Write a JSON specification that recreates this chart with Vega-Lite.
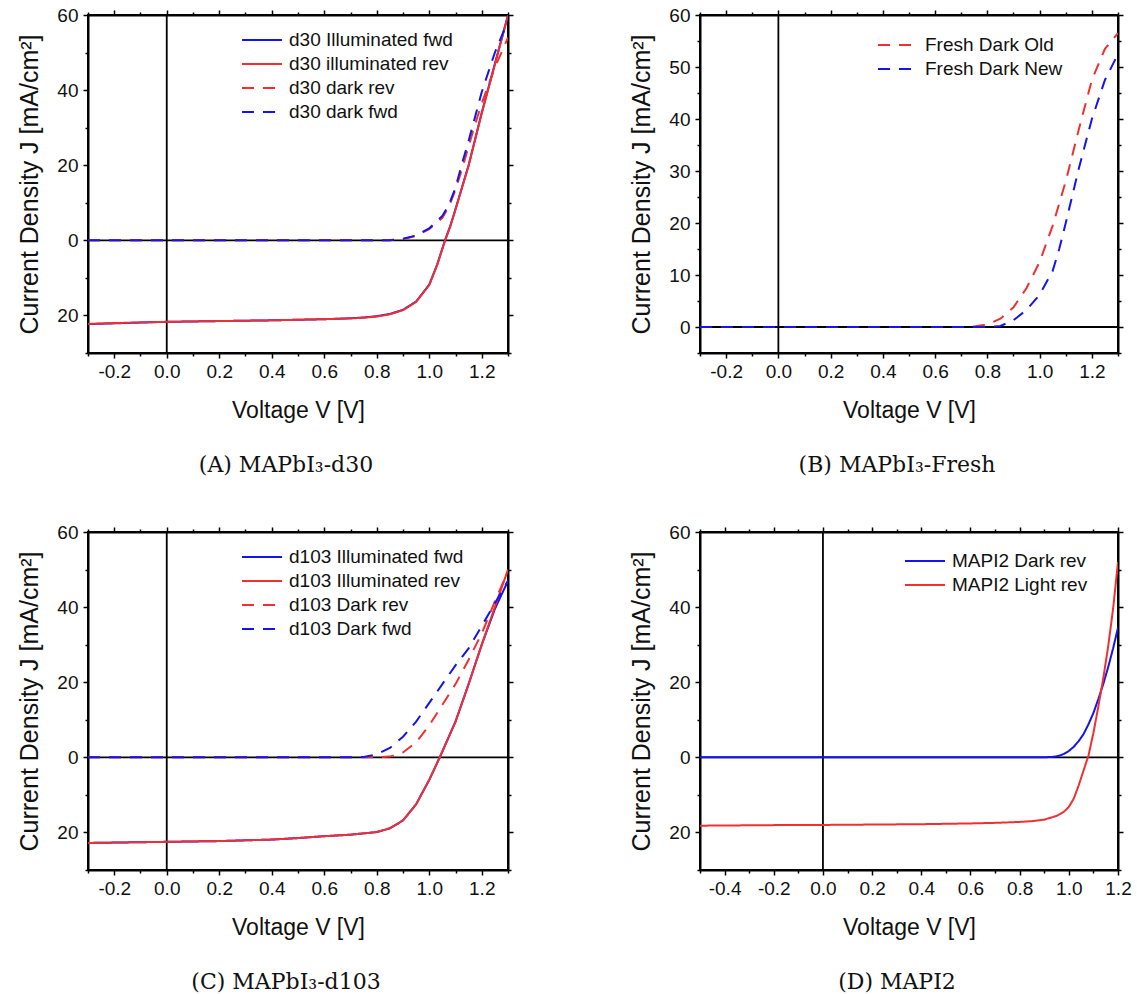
{
  "$schema": "https://vega.github.io/schema/vega-lite/v6.json",
  "background": "white",
  "padding": {"left": 16, "top": 5, "right": 0, "bottom": 0},
  "datasets": {
    "A": [
      {"V": -0.3, "J": -22.3, "s": "d30 Illuminated fwd"}, {"V": -0.2, "J": -22.1, "s": "d30 Illuminated fwd"}, {"V": -0.1, "J": -21.9, "s": "d30 Illuminated fwd"}, {"V": 0, "J": -21.7, "s": "d30 Illuminated fwd"}, {"V": 0.1, "J": -21.6, "s": "d30 Illuminated fwd"}, {"V": 0.2, "J": -21.5, "s": "d30 Illuminated fwd"}, {"V": 0.3, "J": -21.4, "s": "d30 Illuminated fwd"}, {"V": 0.4, "J": -21.3, "s": "d30 Illuminated fwd"}, {"V": 0.5, "J": -21.15, "s": "d30 Illuminated fwd"}, {"V": 0.6, "J": -21.0, "s": "d30 Illuminated fwd"}, {"V": 0.7, "J": -20.75, "s": "d30 Illuminated fwd"}, {"V": 0.75, "J": -20.55, "s": "d30 Illuminated fwd"}, {"V": 0.8, "J": -20.2, "s": "d30 Illuminated fwd"}, {"V": 0.85, "J": -19.6, "s": "d30 Illuminated fwd"}, {"V": 0.9, "J": -18.5, "s": "d30 Illuminated fwd"}, {"V": 0.95, "J": -16.3, "s": "d30 Illuminated fwd"}, {"V": 1.0, "J": -11.8, "s": "d30 Illuminated fwd"}, {"V": 1.03, "J": -6.5, "s": "d30 Illuminated fwd"}, {"V": 1.06, "J": 0, "s": "d30 Illuminated fwd"}, {"V": 1.08, "J": 3.8, "s": "d30 Illuminated fwd"}, {"V": 1.1, "J": 8.3, "s": "d30 Illuminated fwd"}, {"V": 1.15, "J": 20, "s": "d30 Illuminated fwd"}, {"V": 1.2, "J": 34, "s": "d30 Illuminated fwd"}, {"V": 1.25, "J": 47, "s": "d30 Illuminated fwd"}, {"V": 1.3, "J": 60, "s": "d30 Illuminated fwd"},
      {"V": -0.3, "J": -22.25, "s": "d30 illuminated rev"}, {"V": -0.2, "J": -22.05, "s": "d30 illuminated rev"}, {"V": -0.1, "J": -21.85, "s": "d30 illuminated rev"}, {"V": 0, "J": -21.7, "s": "d30 illuminated rev"}, {"V": 0.1, "J": -21.6, "s": "d30 illuminated rev"}, {"V": 0.2, "J": -21.5, "s": "d30 illuminated rev"}, {"V": 0.3, "J": -21.4, "s": "d30 illuminated rev"}, {"V": 0.4, "J": -21.3, "s": "d30 illuminated rev"}, {"V": 0.5, "J": -21.15, "s": "d30 illuminated rev"}, {"V": 0.6, "J": -21.0, "s": "d30 illuminated rev"}, {"V": 0.7, "J": -20.8, "s": "d30 illuminated rev"}, {"V": 0.75, "J": -20.6, "s": "d30 illuminated rev"}, {"V": 0.8, "J": -20.3, "s": "d30 illuminated rev"}, {"V": 0.85, "J": -19.7, "s": "d30 illuminated rev"}, {"V": 0.9, "J": -18.6, "s": "d30 illuminated rev"}, {"V": 0.95, "J": -16.4, "s": "d30 illuminated rev"}, {"V": 1.0, "J": -11.9, "s": "d30 illuminated rev"}, {"V": 1.03, "J": -6.6, "s": "d30 illuminated rev"}, {"V": 1.06, "J": -0.1, "s": "d30 illuminated rev"}, {"V": 1.08, "J": 3.7, "s": "d30 illuminated rev"}, {"V": 1.1, "J": 8.2, "s": "d30 illuminated rev"}, {"V": 1.15, "J": 19.9, "s": "d30 illuminated rev"}, {"V": 1.2, "J": 33.8, "s": "d30 illuminated rev"}, {"V": 1.25, "J": 46.8, "s": "d30 illuminated rev"}, {"V": 1.3, "J": 59.8, "s": "d30 illuminated rev"},
      {"V": -0.3, "J": 0, "s": "d30 dark rev"}, {"V": -0.2, "J": 0, "s": "d30 dark rev"}, {"V": -0.1, "J": 0, "s": "d30 dark rev"}, {"V": 0, "J": 0, "s": "d30 dark rev"}, {"V": 0.1, "J": 0, "s": "d30 dark rev"}, {"V": 0.2, "J": 0, "s": "d30 dark rev"}, {"V": 0.3, "J": 0, "s": "d30 dark rev"}, {"V": 0.4, "J": 0, "s": "d30 dark rev"}, {"V": 0.5, "J": 0, "s": "d30 dark rev"}, {"V": 0.6, "J": 0, "s": "d30 dark rev"}, {"V": 0.7, "J": 0, "s": "d30 dark rev"}, {"V": 0.8, "J": 0, "s": "d30 dark rev"}, {"V": 0.85, "J": 0.05, "s": "d30 dark rev"}, {"V": 0.9, "J": 0.3, "s": "d30 dark rev"}, {"V": 0.95, "J": 1.2, "s": "d30 dark rev"}, {"V": 1.0, "J": 3.0, "s": "d30 dark rev"}, {"V": 1.05, "J": 6.0, "s": "d30 dark rev"}, {"V": 1.075, "J": 9.0, "s": "d30 dark rev"}, {"V": 1.1, "J": 13.5, "s": "d30 dark rev"}, {"V": 1.125, "J": 19, "s": "d30 dark rev"}, {"V": 1.15, "J": 25, "s": "d30 dark rev"}, {"V": 1.175, "J": 31, "s": "d30 dark rev"}, {"V": 1.2, "J": 36.5, "s": "d30 dark rev"}, {"V": 1.25, "J": 46, "s": "d30 dark rev"}, {"V": 1.3, "J": 54, "s": "d30 dark rev"},
      {"V": -0.3, "J": 0, "s": "d30 dark fwd"}, {"V": -0.2, "J": 0, "s": "d30 dark fwd"}, {"V": -0.1, "J": 0, "s": "d30 dark fwd"}, {"V": 0, "J": 0, "s": "d30 dark fwd"}, {"V": 0.1, "J": 0, "s": "d30 dark fwd"}, {"V": 0.2, "J": 0, "s": "d30 dark fwd"}, {"V": 0.3, "J": 0, "s": "d30 dark fwd"}, {"V": 0.4, "J": 0, "s": "d30 dark fwd"}, {"V": 0.5, "J": 0, "s": "d30 dark fwd"}, {"V": 0.6, "J": 0, "s": "d30 dark fwd"}, {"V": 0.7, "J": 0, "s": "d30 dark fwd"}, {"V": 0.8, "J": 0, "s": "d30 dark fwd"}, {"V": 0.85, "J": 0.05, "s": "d30 dark fwd"}, {"V": 0.9, "J": 0.4, "s": "d30 dark fwd"}, {"V": 0.95, "J": 1.3, "s": "d30 dark fwd"}, {"V": 1.0, "J": 3.2, "s": "d30 dark fwd"}, {"V": 1.05, "J": 6.5, "s": "d30 dark fwd"}, {"V": 1.075, "J": 9.5, "s": "d30 dark fwd"}, {"V": 1.1, "J": 14, "s": "d30 dark fwd"}, {"V": 1.125, "J": 20.5, "s": "d30 dark fwd"}, {"V": 1.15, "J": 26.5, "s": "d30 dark fwd"}, {"V": 1.175, "J": 33, "s": "d30 dark fwd"}, {"V": 1.2, "J": 39.5, "s": "d30 dark fwd"}, {"V": 1.25, "J": 50, "s": "d30 dark fwd"}, {"V": 1.3, "J": 58.5, "s": "d30 dark fwd"}
    ],
    "B": [
      {"V": -0.3, "J": 0, "s": "Fresh Dark Old"}, {"V": -0.2, "J": 0, "s": "Fresh Dark Old"}, {"V": -0.1, "J": 0, "s": "Fresh Dark Old"}, {"V": 0, "J": 0, "s": "Fresh Dark Old"}, {"V": 0.1, "J": 0, "s": "Fresh Dark Old"}, {"V": 0.2, "J": 0, "s": "Fresh Dark Old"}, {"V": 0.3, "J": 0, "s": "Fresh Dark Old"}, {"V": 0.4, "J": 0, "s": "Fresh Dark Old"}, {"V": 0.5, "J": 0, "s": "Fresh Dark Old"}, {"V": 0.6, "J": 0, "s": "Fresh Dark Old"}, {"V": 0.7, "J": 0, "s": "Fresh Dark Old"}, {"V": 0.75, "J": 0.1, "s": "Fresh Dark Old"}, {"V": 0.8, "J": 0.5, "s": "Fresh Dark Old"}, {"V": 0.85, "J": 1.6, "s": "Fresh Dark Old"}, {"V": 0.9, "J": 3.8, "s": "Fresh Dark Old"}, {"V": 0.95, "J": 7.5, "s": "Fresh Dark Old"}, {"V": 1.0, "J": 12.5, "s": "Fresh Dark Old"}, {"V": 1.05, "J": 19.5, "s": "Fresh Dark Old"}, {"V": 1.1, "J": 28, "s": "Fresh Dark Old"}, {"V": 1.15, "J": 38, "s": "Fresh Dark Old"}, {"V": 1.2, "J": 47.5, "s": "Fresh Dark Old"}, {"V": 1.25, "J": 53.5, "s": "Fresh Dark Old"}, {"V": 1.3, "J": 56.5, "s": "Fresh Dark Old"},
      {"V": -0.3, "J": 0, "s": "Fresh Dark New"}, {"V": -0.2, "J": 0, "s": "Fresh Dark New"}, {"V": -0.1, "J": 0, "s": "Fresh Dark New"}, {"V": 0, "J": 0, "s": "Fresh Dark New"}, {"V": 0.1, "J": 0, "s": "Fresh Dark New"}, {"V": 0.2, "J": 0, "s": "Fresh Dark New"}, {"V": 0.3, "J": 0, "s": "Fresh Dark New"}, {"V": 0.4, "J": 0, "s": "Fresh Dark New"}, {"V": 0.5, "J": 0, "s": "Fresh Dark New"}, {"V": 0.6, "J": 0, "s": "Fresh Dark New"}, {"V": 0.7, "J": 0, "s": "Fresh Dark New"}, {"V": 0.8, "J": 0, "s": "Fresh Dark New"}, {"V": 0.85, "J": 0.2, "s": "Fresh Dark New"}, {"V": 0.9, "J": 1.3, "s": "Fresh Dark New"}, {"V": 0.95, "J": 3.3, "s": "Fresh Dark New"}, {"V": 1.0, "J": 6.2, "s": "Fresh Dark New"}, {"V": 1.05, "J": 10.8, "s": "Fresh Dark New"}, {"V": 1.075, "J": 15, "s": "Fresh Dark New"}, {"V": 1.1, "J": 20, "s": "Fresh Dark New"}, {"V": 1.15, "J": 30.5, "s": "Fresh Dark New"}, {"V": 1.2, "J": 40, "s": "Fresh Dark New"}, {"V": 1.25, "J": 47.5, "s": "Fresh Dark New"}, {"V": 1.3, "J": 52.5, "s": "Fresh Dark New"}
    ],
    "C": [
      {"V": -0.3, "J": -22.8, "s": "d103 Illuminated fwd"}, {"V": -0.2, "J": -22.7, "s": "d103 Illuminated fwd"}, {"V": -0.1, "J": -22.6, "s": "d103 Illuminated fwd"}, {"V": 0, "J": -22.5, "s": "d103 Illuminated fwd"}, {"V": 0.1, "J": -22.4, "s": "d103 Illuminated fwd"}, {"V": 0.2, "J": -22.3, "s": "d103 Illuminated fwd"}, {"V": 0.3, "J": -22.1, "s": "d103 Illuminated fwd"}, {"V": 0.4, "J": -21.9, "s": "d103 Illuminated fwd"}, {"V": 0.5, "J": -21.5, "s": "d103 Illuminated fwd"}, {"V": 0.6, "J": -21.0, "s": "d103 Illuminated fwd"}, {"V": 0.7, "J": -20.6, "s": "d103 Illuminated fwd"}, {"V": 0.8, "J": -19.9, "s": "d103 Illuminated fwd"}, {"V": 0.85, "J": -18.9, "s": "d103 Illuminated fwd"}, {"V": 0.9, "J": -16.8, "s": "d103 Illuminated fwd"}, {"V": 0.95, "J": -12.5, "s": "d103 Illuminated fwd"}, {"V": 1.0, "J": -6.0, "s": "d103 Illuminated fwd"}, {"V": 1.04, "J": 0, "s": "d103 Illuminated fwd"}, {"V": 1.1, "J": 9.5, "s": "d103 Illuminated fwd"}, {"V": 1.15, "J": 19.5, "s": "d103 Illuminated fwd"}, {"V": 1.2, "J": 30, "s": "d103 Illuminated fwd"}, {"V": 1.25, "J": 39.5, "s": "d103 Illuminated fwd"}, {"V": 1.3, "J": 47, "s": "d103 Illuminated fwd"},
      {"V": -0.3, "J": -22.8, "s": "d103 Illuminated rev"}, {"V": -0.2, "J": -22.7, "s": "d103 Illuminated rev"}, {"V": -0.1, "J": -22.6, "s": "d103 Illuminated rev"}, {"V": 0, "J": -22.5, "s": "d103 Illuminated rev"}, {"V": 0.1, "J": -22.4, "s": "d103 Illuminated rev"}, {"V": 0.2, "J": -22.3, "s": "d103 Illuminated rev"}, {"V": 0.3, "J": -22.1, "s": "d103 Illuminated rev"}, {"V": 0.4, "J": -21.9, "s": "d103 Illuminated rev"}, {"V": 0.5, "J": -21.5, "s": "d103 Illuminated rev"}, {"V": 0.6, "J": -21.0, "s": "d103 Illuminated rev"}, {"V": 0.7, "J": -20.6, "s": "d103 Illuminated rev"}, {"V": 0.8, "J": -19.9, "s": "d103 Illuminated rev"}, {"V": 0.85, "J": -18.9, "s": "d103 Illuminated rev"}, {"V": 0.9, "J": -16.8, "s": "d103 Illuminated rev"}, {"V": 0.95, "J": -12.5, "s": "d103 Illuminated rev"}, {"V": 1.0, "J": -6.0, "s": "d103 Illuminated rev"}, {"V": 1.04, "J": 0, "s": "d103 Illuminated rev"}, {"V": 1.1, "J": 9.5, "s": "d103 Illuminated rev"}, {"V": 1.15, "J": 19.5, "s": "d103 Illuminated rev"}, {"V": 1.2, "J": 30, "s": "d103 Illuminated rev"}, {"V": 1.25, "J": 40, "s": "d103 Illuminated rev"}, {"V": 1.3, "J": 50, "s": "d103 Illuminated rev"},
      {"V": -0.3, "J": 0, "s": "d103 Dark rev"}, {"V": -0.2, "J": 0, "s": "d103 Dark rev"}, {"V": -0.1, "J": 0, "s": "d103 Dark rev"}, {"V": 0, "J": 0, "s": "d103 Dark rev"}, {"V": 0.1, "J": 0, "s": "d103 Dark rev"}, {"V": 0.2, "J": 0, "s": "d103 Dark rev"}, {"V": 0.3, "J": 0, "s": "d103 Dark rev"}, {"V": 0.4, "J": 0, "s": "d103 Dark rev"}, {"V": 0.5, "J": 0, "s": "d103 Dark rev"}, {"V": 0.6, "J": 0, "s": "d103 Dark rev"}, {"V": 0.7, "J": 0, "s": "d103 Dark rev"}, {"V": 0.8, "J": 0, "s": "d103 Dark rev"}, {"V": 0.85, "J": 0.2, "s": "d103 Dark rev"}, {"V": 0.9, "J": 1.3, "s": "d103 Dark rev"}, {"V": 0.95, "J": 4, "s": "d103 Dark rev"}, {"V": 1.0, "J": 8.5, "s": "d103 Dark rev"}, {"V": 1.05, "J": 14, "s": "d103 Dark rev"}, {"V": 1.1, "J": 19.5, "s": "d103 Dark rev"}, {"V": 1.15, "J": 26, "s": "d103 Dark rev"}, {"V": 1.2, "J": 33, "s": "d103 Dark rev"}, {"V": 1.25, "J": 41.5, "s": "d103 Dark rev"}, {"V": 1.3, "J": 49.5, "s": "d103 Dark rev"},
      {"V": -0.3, "J": 0, "s": "d103 Dark fwd"}, {"V": -0.2, "J": 0, "s": "d103 Dark fwd"}, {"V": -0.1, "J": 0, "s": "d103 Dark fwd"}, {"V": 0, "J": 0, "s": "d103 Dark fwd"}, {"V": 0.1, "J": 0, "s": "d103 Dark fwd"}, {"V": 0.2, "J": 0, "s": "d103 Dark fwd"}, {"V": 0.3, "J": 0, "s": "d103 Dark fwd"}, {"V": 0.4, "J": 0, "s": "d103 Dark fwd"}, {"V": 0.5, "J": 0, "s": "d103 Dark fwd"}, {"V": 0.6, "J": 0, "s": "d103 Dark fwd"}, {"V": 0.7, "J": 0, "s": "d103 Dark fwd"}, {"V": 0.75, "J": 0.1, "s": "d103 Dark fwd"}, {"V": 0.8, "J": 0.8, "s": "d103 Dark fwd"}, {"V": 0.85, "J": 2.5, "s": "d103 Dark fwd"}, {"V": 0.9, "J": 5.5, "s": "d103 Dark fwd"}, {"V": 0.95, "J": 9.5, "s": "d103 Dark fwd"}, {"V": 1.0, "J": 14.5, "s": "d103 Dark fwd"}, {"V": 1.05, "J": 19.5, "s": "d103 Dark fwd"}, {"V": 1.1, "J": 24.5, "s": "d103 Dark fwd"}, {"V": 1.15, "J": 29, "s": "d103 Dark fwd"}, {"V": 1.2, "J": 35, "s": "d103 Dark fwd"}, {"V": 1.25, "J": 41, "s": "d103 Dark fwd"}, {"V": 1.3, "J": 47, "s": "d103 Dark fwd"}
    ],
    "D": [
      {"V": -0.5, "J": 0, "s": "MAPI2 Dark rev"}, {"V": -0.3, "J": 0, "s": "MAPI2 Dark rev"}, {"V": -0.1, "J": 0, "s": "MAPI2 Dark rev"}, {"V": 0.1, "J": 0, "s": "MAPI2 Dark rev"}, {"V": 0.3, "J": 0, "s": "MAPI2 Dark rev"}, {"V": 0.5, "J": 0, "s": "MAPI2 Dark rev"}, {"V": 0.7, "J": 0, "s": "MAPI2 Dark rev"}, {"V": 0.9, "J": 0, "s": "MAPI2 Dark rev"}, {"V": 0.94, "J": 0.15, "s": "MAPI2 Dark rev"}, {"V": 0.96, "J": 0.4, "s": "MAPI2 Dark rev"}, {"V": 0.98, "J": 0.9, "s": "MAPI2 Dark rev"}, {"V": 1.0, "J": 1.7, "s": "MAPI2 Dark rev"}, {"V": 1.02, "J": 2.8, "s": "MAPI2 Dark rev"}, {"V": 1.04, "J": 4.3, "s": "MAPI2 Dark rev"}, {"V": 1.06, "J": 6.2, "s": "MAPI2 Dark rev"}, {"V": 1.08, "J": 8.8, "s": "MAPI2 Dark rev"}, {"V": 1.1, "J": 11.8, "s": "MAPI2 Dark rev"}, {"V": 1.12, "J": 15.5, "s": "MAPI2 Dark rev"}, {"V": 1.14, "J": 19.5, "s": "MAPI2 Dark rev"}, {"V": 1.16, "J": 24, "s": "MAPI2 Dark rev"}, {"V": 1.18, "J": 29, "s": "MAPI2 Dark rev"}, {"V": 1.2, "J": 34.5, "s": "MAPI2 Dark rev"},
      {"V": -0.5, "J": -18.2, "s": "MAPI2 Light rev"}, {"V": -0.4, "J": -18.15, "s": "MAPI2 Light rev"}, {"V": -0.3, "J": -18.1, "s": "MAPI2 Light rev"}, {"V": -0.2, "J": -18.05, "s": "MAPI2 Light rev"}, {"V": -0.1, "J": -18.0, "s": "MAPI2 Light rev"}, {"V": 0, "J": -18.0, "s": "MAPI2 Light rev"}, {"V": 0.1, "J": -17.95, "s": "MAPI2 Light rev"}, {"V": 0.2, "J": -17.9, "s": "MAPI2 Light rev"}, {"V": 0.3, "J": -17.85, "s": "MAPI2 Light rev"}, {"V": 0.4, "J": -17.8, "s": "MAPI2 Light rev"}, {"V": 0.5, "J": -17.7, "s": "MAPI2 Light rev"}, {"V": 0.6, "J": -17.6, "s": "MAPI2 Light rev"}, {"V": 0.7, "J": -17.45, "s": "MAPI2 Light rev"}, {"V": 0.8, "J": -17.2, "s": "MAPI2 Light rev"}, {"V": 0.85, "J": -17.0, "s": "MAPI2 Light rev"}, {"V": 0.9, "J": -16.6, "s": "MAPI2 Light rev"}, {"V": 0.95, "J": -15.6, "s": "MAPI2 Light rev"}, {"V": 0.98, "J": -14.5, "s": "MAPI2 Light rev"}, {"V": 1.0, "J": -13.2, "s": "MAPI2 Light rev"}, {"V": 1.02, "J": -11, "s": "MAPI2 Light rev"}, {"V": 1.04, "J": -7.5, "s": "MAPI2 Light rev"}, {"V": 1.06, "J": -3.5, "s": "MAPI2 Light rev"}, {"V": 1.08, "J": 0.5, "s": "MAPI2 Light rev"}, {"V": 1.1, "J": 6.5, "s": "MAPI2 Light rev"}, {"V": 1.12, "J": 13.5, "s": "MAPI2 Light rev"}, {"V": 1.14, "J": 21, "s": "MAPI2 Light rev"}, {"V": 1.16, "J": 29.5, "s": "MAPI2 Light rev"}, {"V": 1.18, "J": 39.5, "s": "MAPI2 Light rev"}, {"V": 1.2, "J": 52, "s": "MAPI2 Light rev"}
    ],
    "zero": [{"z": 0}]
  },
  "vconcat": [
    {
      "hconcat": [
        {
          "width": 420, "height": 338,
          "title": {"text": "(A) MAPbI₃-d30", "orient": "bottom", "anchor": "middle", "frame": "group", "dx": -12},
          "layer": [
            {"data": {"name": "zero"}, "mark": {"type": "rule", "color": "black", "strokeWidth": 1.8},
             "encoding": {"x": {"field": "z", "type": "quantitative", "scale": {"domain": [-0.3, 1.3], "nice": false, "zero": false},
               "axis": {"orient": "top", "labels": false, "title": null, "tickSize": 5, "values": [-0.2, 0, 0.2, 0.4, 0.6, 0.8, 1, 1.2]}}}},
            {"data": {"name": "zero"}, "mark": {"type": "rule", "color": "black", "strokeWidth": 1.8},
             "encoding": {"y": {"field": "z", "type": "quantitative", "scale": {"domain": [-30, 60], "nice": false, "zero": false},
               "axis": {"orient": "right", "labels": false, "title": null, "tickSize": 5, "values": [-20, 0, 20, 40, 60]}}}},
            {"data": {"name": "A"}, "mark": {"type": "line", "strokeWidth": 2, "clip": true},
             "encoding": {
               "x": {"field": "V", "type": "quantitative", "scale": {"domain": [-0.3, 1.3], "nice": false, "zero": false},
                 "axis": {"orient": "bottom", "title": "Voltage V [V]", "tickSize": 5, "values": [-0.2, 0, 0.2, 0.4, 0.6, 0.8, 1, 1.2], "labelExpr": "replace(format(datum.value, '.1f'), '−', '-')"}},
               "y": {"field": "J", "type": "quantitative", "scale": {"domain": [-30, 60], "nice": false, "zero": false},
                 "axis": {"orient": "left", "title": "Current Density J [mA/cm²]", "tickSize": 5, "values": [-20, 0, 20, 40, 60], "labelExpr": "format(abs(datum.value), 'd')"}},
               "color": {"field": "s", "type": "nominal", "scale": {"domain": ["d30 Illuminated fwd", "d30 illuminated rev", "d30 dark rev", "d30 dark fwd"], "range": ["#1414f0", "#f03030", "#f03030", "#1414f0"]}, "legend": {"legendX": 163, "legendY": 14}},
               "strokeDash": {"field": "s", "type": "nominal", "scale": {"domain": ["d30 Illuminated fwd", "d30 illuminated rev", "d30 dark rev", "d30 dark fwd"], "range": [[1, 0], [1, 0], [12, 9], [12, 9]]}, "legend": {"legendX": 163, "legendY": 14}}
             }},
            {"data": {"name": "zero"}, "mark": {"type": "point", "opacity": 0},
             "encoding": {
               "x": {"field": "z", "type": "quantitative", "axis": {"orient": "bottom", "domain": false, "labels": false, "title": null, "tickSize": 3, "values": [-0.3, -0.1, 0.1, 0.3, 0.5, 0.7, 0.9, 1.1, 1.3]}},
               "y": {"field": "z", "type": "quantitative", "axis": {"orient": "left", "domain": false, "labels": false, "title": null, "tickSize": 3, "values": [-30, -10, 10, 30, 50]}}}},
            {"data": {"name": "zero"}, "mark": {"type": "point", "opacity": 0},
             "encoding": {
               "x": {"field": "z", "type": "quantitative", "axis": {"orient": "top", "domain": false, "labels": false, "title": null, "tickSize": 3, "values": [-0.3, -0.1, 0.1, 0.3, 0.5, 0.7, 0.9, 1.1, 1.3]}},
               "y": {"field": "z", "type": "quantitative", "axis": {"orient": "right", "domain": false, "labels": false, "title": null, "tickSize": 3, "values": [-30, -10, 10, 30, 50]}}}}
          ]
        },
        {
          "width": 418, "height": 338,
          "title": {"text": "(B) MAPbI₃-Fresh", "orient": "bottom", "anchor": "middle", "frame": "group", "dx": -12},
          "layer": [
            {"data": {"name": "zero"}, "mark": {"type": "rule", "color": "black", "strokeWidth": 1.8},
             "encoding": {"x": {"field": "z", "type": "quantitative", "scale": {"domain": [-0.3, 1.3], "nice": false, "zero": false},
               "axis": {"orient": "top", "labels": false, "title": null, "tickSize": 5, "values": [-0.2, 0, 0.2, 0.4, 0.6, 0.8, 1, 1.2]}}}},
            {"data": {"name": "zero"}, "mark": {"type": "rule", "color": "black", "strokeWidth": 1.8},
             "encoding": {"y": {"field": "z", "type": "quantitative", "scale": {"domain": [-5, 60], "nice": false, "zero": false},
               "axis": {"orient": "right", "labels": false, "title": null, "tickSize": 5, "values": [0, 10, 20, 30, 40, 50, 60]}}}},
            {"data": {"name": "B"}, "mark": {"type": "line", "strokeWidth": 2, "clip": true},
             "encoding": {
               "x": {"field": "V", "type": "quantitative", "scale": {"domain": [-0.3, 1.3], "nice": false, "zero": false},
                 "axis": {"orient": "bottom", "title": "Voltage V [V]", "tickSize": 5, "values": [-0.2, 0, 0.2, 0.4, 0.6, 0.8, 1, 1.2], "labelExpr": "replace(format(datum.value, '.1f'), '−', '-')"}},
               "y": {"field": "J", "type": "quantitative", "scale": {"domain": [-5, 60], "nice": false, "zero": false},
                 "axis": {"orient": "left", "title": "Current Density J [mA/cm²]", "tickSize": 5, "values": [0, 10, 20, 30, 40, 50, 60], "labelExpr": "format(abs(datum.value), 'd')"}},
               "color": {"field": "s", "type": "nominal", "scale": {"domain": ["Fresh Dark Old", "Fresh Dark New"], "range": ["#f03030", "#1414f0"]}, "legend": {"legendX": 187, "legendY": 19}},
               "strokeDash": {"field": "s", "type": "nominal", "scale": {"domain": ["Fresh Dark Old", "Fresh Dark New"], "range": [[12, 9], [12, 9]]}, "legend": {"legendX": 187, "legendY": 19}}
             }},
            {"data": {"name": "zero"}, "mark": {"type": "point", "opacity": 0},
             "encoding": {
               "x": {"field": "z", "type": "quantitative", "axis": {"orient": "bottom", "domain": false, "labels": false, "title": null, "tickSize": 3, "values": [-0.3, -0.1, 0.1, 0.3, 0.5, 0.7, 0.9, 1.1, 1.3]}},
               "y": {"field": "z", "type": "quantitative", "axis": {"orient": "left", "domain": false, "labels": false, "title": null, "tickSize": 3, "values": [-5, 5, 15, 25, 35, 45, 55]}}}},
            {"data": {"name": "zero"}, "mark": {"type": "point", "opacity": 0},
             "encoding": {
               "x": {"field": "z", "type": "quantitative", "axis": {"orient": "top", "domain": false, "labels": false, "title": null, "tickSize": 3, "values": [-0.3, -0.1, 0.1, 0.3, 0.5, 0.7, 0.9, 1.1, 1.3]}},
               "y": {"field": "z", "type": "quantitative", "axis": {"orient": "right", "domain": false, "labels": false, "title": null, "tickSize": 3, "values": [-5, 5, 15, 25, 35, 45, 55]}}}}
          ]
        }
      ],
      "spacing": 113,
      "resolve": {"scale": {"x": "independent", "y": "independent", "color": "independent", "strokeDash": "independent"}, "legend": {"color": "independent", "strokeDash": "independent"}}
    },
    {
      "hconcat": [
        {
          "width": 420, "height": 338,
          "title": {"text": "(C) MAPbI₃-d103", "orient": "bottom", "anchor": "middle", "frame": "group", "dx": -12},
          "layer": [
            {"data": {"name": "zero"}, "mark": {"type": "rule", "color": "black", "strokeWidth": 1.8},
             "encoding": {"x": {"field": "z", "type": "quantitative", "scale": {"domain": [-0.3, 1.3], "nice": false, "zero": false},
               "axis": {"orient": "top", "labels": false, "title": null, "tickSize": 5, "values": [-0.2, 0, 0.2, 0.4, 0.6, 0.8, 1, 1.2]}}}},
            {"data": {"name": "zero"}, "mark": {"type": "rule", "color": "black", "strokeWidth": 1.8},
             "encoding": {"y": {"field": "z", "type": "quantitative", "scale": {"domain": [-30, 60], "nice": false, "zero": false},
               "axis": {"orient": "right", "labels": false, "title": null, "tickSize": 5, "values": [-20, 0, 20, 40, 60]}}}},
            {"data": {"name": "C"}, "mark": {"type": "line", "strokeWidth": 2, "clip": true},
             "encoding": {
               "x": {"field": "V", "type": "quantitative", "scale": {"domain": [-0.3, 1.3], "nice": false, "zero": false},
                 "axis": {"orient": "bottom", "title": "Voltage V [V]", "tickSize": 5, "values": [-0.2, 0, 0.2, 0.4, 0.6, 0.8, 1, 1.2], "labelExpr": "replace(format(datum.value, '.1f'), '−', '-')"}},
               "y": {"field": "J", "type": "quantitative", "scale": {"domain": [-30, 60], "nice": false, "zero": false},
                 "axis": {"orient": "left", "title": "Current Density J [mA/cm²]", "tickSize": 5, "values": [-20, 0, 20, 40, 60], "labelExpr": "format(abs(datum.value), 'd')"}},
               "color": {"field": "s", "type": "nominal", "scale": {"domain": ["d103 Illuminated fwd", "d103 Illuminated rev", "d103 Dark rev", "d103 Dark fwd"], "range": ["#1414f0", "#f03030", "#f03030", "#1414f0"]}, "legend": {"legendX": 163, "legendY": 14}},
               "strokeDash": {"field": "s", "type": "nominal", "scale": {"domain": ["d103 Illuminated fwd", "d103 Illuminated rev", "d103 Dark rev", "d103 Dark fwd"], "range": [[1, 0], [1, 0], [12, 9], [12, 9]]}, "legend": {"legendX": 163, "legendY": 14}}
             }},
            {"data": {"name": "zero"}, "mark": {"type": "point", "opacity": 0},
             "encoding": {
               "x": {"field": "z", "type": "quantitative", "axis": {"orient": "bottom", "domain": false, "labels": false, "title": null, "tickSize": 3, "values": [-0.3, -0.1, 0.1, 0.3, 0.5, 0.7, 0.9, 1.1, 1.3]}},
               "y": {"field": "z", "type": "quantitative", "axis": {"orient": "left", "domain": false, "labels": false, "title": null, "tickSize": 3, "values": [-30, -10, 10, 30, 50]}}}},
            {"data": {"name": "zero"}, "mark": {"type": "point", "opacity": 0},
             "encoding": {
               "x": {"field": "z", "type": "quantitative", "axis": {"orient": "top", "domain": false, "labels": false, "title": null, "tickSize": 3, "values": [-0.3, -0.1, 0.1, 0.3, 0.5, 0.7, 0.9, 1.1, 1.3]}},
               "y": {"field": "z", "type": "quantitative", "axis": {"orient": "right", "domain": false, "labels": false, "title": null, "tickSize": 3, "values": [-30, -10, 10, 30, 50]}}}}
          ]
        },
        {
          "width": 418, "height": 338,
          "title": {"text": "(D) MAPI2", "orient": "bottom", "anchor": "middle", "frame": "group", "dx": -12},
          "layer": [
            {"data": {"name": "zero"}, "mark": {"type": "rule", "color": "black", "strokeWidth": 1.8},
             "encoding": {"x": {"field": "z", "type": "quantitative", "scale": {"domain": [-0.5, 1.2], "nice": false, "zero": false},
               "axis": {"orient": "top", "labels": false, "title": null, "tickSize": 5, "values": [-0.4, -0.2, 0, 0.2, 0.4, 0.6, 0.8, 1, 1.2]}}}},
            {"data": {"name": "zero"}, "mark": {"type": "rule", "color": "black", "strokeWidth": 1.8},
             "encoding": {"y": {"field": "z", "type": "quantitative", "scale": {"domain": [-30, 60], "nice": false, "zero": false},
               "axis": {"orient": "right", "labels": false, "title": null, "tickSize": 5, "values": [-20, 0, 20, 40, 60]}}}},
            {"data": {"name": "D"}, "mark": {"type": "line", "strokeWidth": 2, "clip": true},
             "encoding": {
               "x": {"field": "V", "type": "quantitative", "scale": {"domain": [-0.5, 1.2], "nice": false, "zero": false},
                 "axis": {"orient": "bottom", "title": "Voltage V [V]", "tickSize": 5, "values": [-0.4, -0.2, 0, 0.2, 0.4, 0.6, 0.8, 1, 1.2], "labelExpr": "replace(format(datum.value, '.1f'), '−', '-')"}},
               "y": {"field": "J", "type": "quantitative", "scale": {"domain": [-30, 60], "nice": false, "zero": false},
                 "axis": {"orient": "left", "title": "Current Density J [mA/cm²]", "tickSize": 5, "values": [-20, 0, 20, 40, 60], "labelExpr": "format(abs(datum.value), 'd')"}},
               "color": {"field": "s", "type": "nominal", "scale": {"domain": ["MAPI2 Dark rev", "MAPI2 Light rev"], "range": ["#1414f0", "#f03030"]}, "legend": {"legendX": 214, "legendY": 18}},
               "strokeDash": {"field": "s", "type": "nominal", "scale": {"domain": ["MAPI2 Dark rev", "MAPI2 Light rev"], "range": [[1, 0], [1, 0]]}, "legend": {"legendX": 214, "legendY": 18}}
             }},
            {"data": {"name": "zero"}, "mark": {"type": "point", "opacity": 0},
             "encoding": {
               "x": {"field": "z", "type": "quantitative", "axis": {"orient": "bottom", "domain": false, "labels": false, "title": null, "tickSize": 3, "values": [-0.5, -0.3, -0.1, 0.1, 0.3, 0.5, 0.7, 0.9, 1.1]}},
               "y": {"field": "z", "type": "quantitative", "axis": {"orient": "left", "domain": false, "labels": false, "title": null, "tickSize": 3, "values": [-30, -10, 10, 30, 50]}}}},
            {"data": {"name": "zero"}, "mark": {"type": "point", "opacity": 0},
             "encoding": {
               "x": {"field": "z", "type": "quantitative", "axis": {"orient": "top", "domain": false, "labels": false, "title": null, "tickSize": 3, "values": [-0.5, -0.3, -0.1, 0.1, 0.3, 0.5, 0.7, 0.9, 1.1]}},
               "y": {"field": "z", "type": "quantitative", "axis": {"orient": "right", "domain": false, "labels": false, "title": null, "tickSize": 3, "values": [-30, -10, 10, 30, 50]}}}}
          ]
        }
      ],
      "spacing": 113,
      "resolve": {"scale": {"x": "independent", "y": "independent", "color": "independent", "strokeDash": "independent"}, "legend": {"color": "independent", "strokeDash": "independent"}}
    }
  ],
  "spacing": 45,
  "resolve": {"scale": {"x": "independent", "y": "independent", "color": "independent", "strokeDash": "independent"}, "legend": {"color": "independent", "strokeDash": "independent"}},
  "config": {
    "view": {"stroke": "#000", "strokeWidth": 2},
    "font": "Liberation Sans",
    "axis": {"domain": true, "domainColor": "#000", "domainWidth": 2, "tickColor": "#000", "tickWidth": 1.5, "labelFont": "Liberation Sans", "labelFontSize": 19, "labelColor": "#111", "labelPadding": 4, "labelOverlap": false, "labelFlush": false, "labelBound": false, "titleFont": "Liberation Sans", "titleFontWeight": "normal", "titleColor": "#111", "grid": false},
    "axisX": {"titlePadding": 18, "titleFontSize": 23},
    "axisY": {"titlePadding": 14, "labelPadding": 5, "titleFontSize": 25},
    "legend": {"orient": "none", "title": null, "labelFont": "Liberation Sans", "labelFontSize": 19, "labelColor": "#111", "labelLimit": 400, "symbolType": "M-2,0H2", "symbolStrokeWidth": 2, "symbolSize": 400, "labelOffset": 16, "padding": 0, "rowPadding": 3},
    "title": {"font": "DejaVu Serif", "fontSize": 22, "fontWeight": "normal", "color": "#111", "offset": 33}
  }
}
